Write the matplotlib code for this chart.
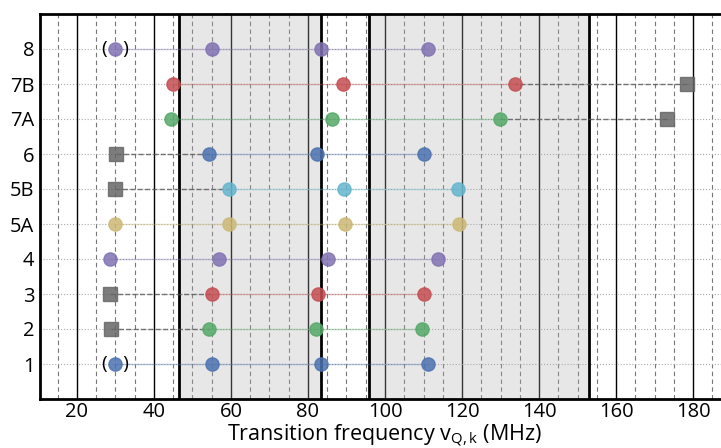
import matplotlib
matplotlib.use("Agg")
import matplotlib.pyplot as plt
import numpy as np

plt.rcParams['font.family'] = ['Open Sans', 'DejaVu Sans']
plt.rcParams['mathtext.fontset'] = 'custom'
plt.rcParams['mathtext.rm'] = 'Open Sans'
plt.rcParams['mathtext.it'] = 'Open Sans:italic'

# ---- data ----
row_labels = ['1', '2', '3', '4', '5A', '5B', '6', '7A', '7B', '8']
row_pos = [1, 2, 3, 4, 5, 6, 7, 8, 9, 10]
circles = [
    [30.0, 55.0, 83.4, 111.2],   # 1
    [54.3, 82.1, 109.5],         # 2
    [55.1, 82.6, 110.1],         # 3
    [28.6, 56.9, 85.3, 113.7],   # 4
    [29.9, 59.5, 89.6, 119.3],   # 5A
    [59.5, 89.4, 119.0],         # 5B
    [54.3, 82.4, 110.0],         # 6
    [44.3, 86.3, 129.9],         # 7A
    [44.9, 89.2, 133.8],         # 7B
    [29.9, 55.1, 83.4, 111.2],   # 8
]
squares = [None, 28.8, 28.5, None, None, 29.8, 30.1, 173.2, 178.4, None]
parenthesised = [30.0, None, None, None, None, None, None, None, None, 29.9]
colors = ['#4C72B0', '#55A868', '#C44E52', '#8172B2', '#CCB974',
          '#64B5CD', '#4C72B0', '#55A868', '#C44E52', '#8172B2']
bands = [(46.6, 83.5), (95.9, 153.0)]
xticks = [20, 40, 60, 80, 100, 120, 140, 160, 180]

fig = plt.figure(figsize=(7.21, 4.48), dpi=100)
ax = fig.add_axes([40/721, 1-399/448, 690/721, (399-14)/448])
ax.set_xlim(10.4, 189.6)
ax.set_ylim(0, 11)

# grid
ax.set_xticks(xticks)
ax.set_xticks([v for v in np.arange(15, 190, 5) if v % 20 != 0], minor=True)
ax.set_yticks(row_pos)
ax.set_yticklabels(row_labels)
ax.grid(which='major', axis='x', color='black', linewidth=1.0, zorder=0)
ax.grid(which='minor', axis='x', color='#555555', linestyle=(0, (4, 3)), linewidth=0.8, alpha=0.8, zorder=0)
ax.grid(which='major', axis='y', color='#aaaaaa', linestyle=':', linewidth=0.8, zorder=0)
ax.set_axisbelow(True)
ax.tick_params(which='both', length=0, labelsize=14.5)
ax.tick_params(axis='y', pad=4)
ax.tick_params(axis='x', pad=2)

for lo, hi in bands:
    ax.axvspan(lo, hi, color='#b0b0b0', alpha=0.3, zorder=1, linewidth=0)
    ax.axvline(lo, color='black', linewidth=2, zorder=2)
    ax.axvline(hi, color='black', linewidth=2, zorder=2)

for y, cx, sq, c, par in zip(row_pos, circles, squares, colors, parenthesised):
    ax.plot(cx, [y]*len(cx), '-', color=c, linewidth=1.0, alpha=0.4, zorder=3)
    ax.plot(cx, [y]*len(cx), 'o', color=c, markersize=9.5, alpha=0.85,
            markeredgecolor=c, zorder=5)
    if sq is not None:
        near = min(cx) if sq < min(cx) else max(cx)
        ax.plot([sq, near], [y, y], '--', color='#555555', linewidth=1.0, alpha=0.8, zorder=3)
        ax.plot([sq], [y], 's', color='#666666', markersize=9.5, alpha=0.85, zorder=5)
    if par is not None:
        ax.text(par, y, '(   )', ha='center', va='center', fontsize=14, zorder=6)

for s in ax.spines.values():
    s.set_linewidth(2)
    s.set_color('black')

ax.set_xlabel('Transition frequency v$_{\\mathrm{Q,k}}$ (MHz)', fontsize=15.5, labelpad=0)

fig.savefig('out.png', dpi=100)
